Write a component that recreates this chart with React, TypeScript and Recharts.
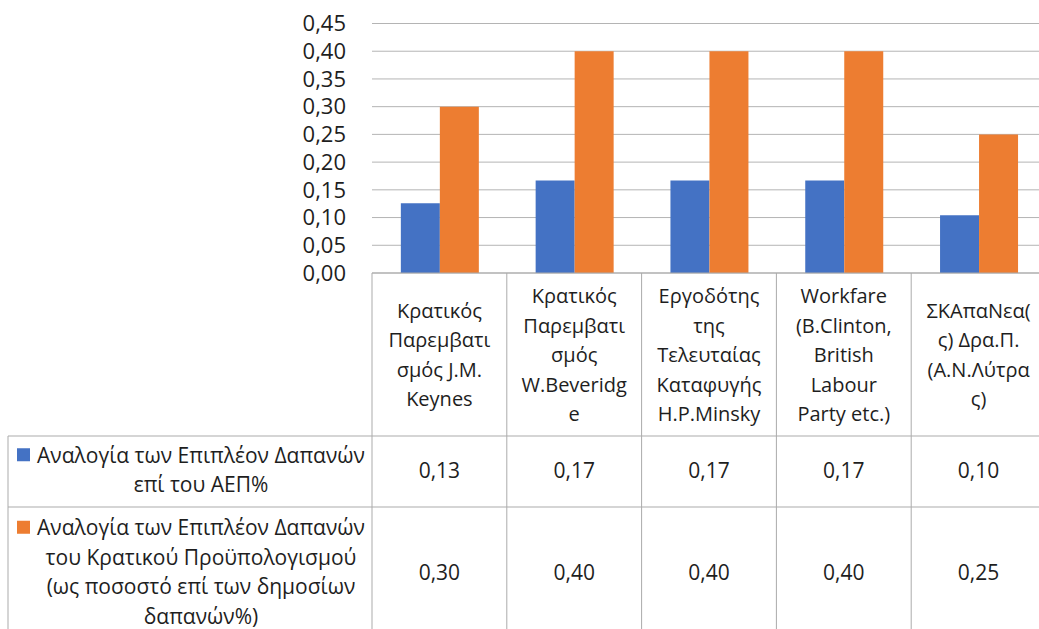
import React from 'react';
import { BarChart, Bar, XAxis, YAxis, CartesianGrid } from 'recharts';

// ---------- data ----------
const categories = [
  'Κρατικός Παρεμβατισμός J.M. Keynes',
  'Κρατικός Παρεμβατισμός W.Beveridge',
  'Εργοδότης της Τελευταίας Καταφυγής H.P.Minsky',
  'Workfare (B.Clinton, British Labour Party etc.)',
  'ΣΚΑπαΝεα(ς) Δρα.Π. (Α.Ν.Λύτρας)',
];
const categoryLines = [
  ['Κρατικός', 'Παρεμβατι', 'σμός J.M.', 'Keynes'],
  ['Κρατικός', 'Παρεμβατι', 'σμός', 'W.Beveridg', 'e'],
  ['Εργοδότης', 'της', 'Τελευταίας', 'Καταφυγής', 'H.P.Minsky'],
  ['Workfare', '(B.Clinton,', 'British', 'Labour', 'Party etc.)'],
  ['ΣΚΑπαΝεα(', 'ς) Δρα.Π.', '(Α.Ν.Λύτρα', 'ς)'],
];
const seriesGDP = [0.126, 0.167, 0.167, 0.167, 0.104];
const seriesBudget = [0.3, 0.4, 0.4, 0.4, 0.25];
const seriesNames = [
  'Αναλογία των Επιπλέον Δαπανών επί του ΑΕΠ%',
  'Αναλογία των Επιπλέον Δαπανών του Κρατικού Προϋπολογισμού (ως ποσοστό επί των δημοσίων δαπανών%)',
];
const seriesNameLines = [
  ['Αναλογία των Επιπλέον Δαπανών', 'επί του ΑΕΠ%'],
  ['Αναλογία των Επιπλέον Δαπανών', 'του Κρατικού Προϋπολογισμού', '(ως ποσοστό επί των δημοσίων', 'δαπανών%)'],
];
const yTicks = [0, 0.05, 0.1, 0.15, 0.2, 0.25, 0.3, 0.35, 0.4, 0.45];

const data = categories.map((name, i) => ({
  name,
  gdp: seriesGDP[i],
  budget: seriesBudget[i],
}));

// ---------- layout / style ----------
const W = 1046;
const H = 629;
const PLOT_LEFT = 372;
const PLOT_TOP = 23.5;
const TABLE_H = 356;
const TABLE_TOP = H - TABLE_H;
const ROW1_TOP = 436;
const ROW2_TOP = 507;
const TABLE_BOTTOM = 640;
const LEGEND_LEFT = 8;
const LEGEND_TEXT_CX = 201;
const LINE_H = 29.5;
const CAT_W = (W - PLOT_LEFT) / categories.length;
const FONT = "'Open Sans', 'Noto Sans', sans-serif";
const BORDER = '#ababab';
const TEXT = '#1e1e1e';
const COLORS = ['#4472C4', '#ED7D31'];

const fmt = (v: number) => v.toFixed(2).replace('.', ',');

const Lines = ({ lines, cx, cy, size }: { lines: string[]; cx: number; cy: number; size: number }) => {
  const start = cy - ((lines.length - 1) * LINE_H) / 2;
  return (
    <>
      {lines.map((l, k) => (
        <text
          key={k}
          x={cx}
          y={start + k * LINE_H}
          textAnchor="middle"
          dominantBaseline="central"
          fontFamily={FONT}
          fontSize={size}
          fill={TEXT}
        >
          {l}
        </text>
      ))}
    </>
  );
};

const TableTick = (props: any) => {
  const { x, payload, index } = props;
  const i: number = payload?.index ?? index ?? 0;
  const half = CAT_W / 2;
  const left = x - half;
  const right = x + half;
  const series = [seriesGDP, seriesBudget];
  const rowTops = [ROW1_TOP, ROW2_TOP];
  const rowBottoms = [ROW2_TOP, TABLE_BOTTOM];
  return (
    <g>
      {/* cell borders */}
      <line x1={left} y1={TABLE_TOP} x2={left} y2={TABLE_BOTTOM} stroke={BORDER} strokeWidth={1} />
      {i === categories.length - 1 && (
        <line x1={right} y1={TABLE_TOP} x2={right} y2={TABLE_BOTTOM} stroke={BORDER} strokeWidth={1} />
      )}
      <line x1={left} y1={ROW1_TOP} x2={right} y2={ROW1_TOP} stroke={BORDER} strokeWidth={1} />
      <line x1={left} y1={ROW2_TOP} x2={right} y2={ROW2_TOP} stroke={BORDER} strokeWidth={1} />
      {/* header */}
      <Lines lines={categoryLines[i]} cx={x} cy={(TABLE_TOP + ROW1_TOP) / 2} size={20} />
      {/* values */}
      {series.map((s, r) => (
        <text
          key={r}
          x={x}
          y={(rowTops[r] + rowBottoms[r]) / 2 - 2}
          textAnchor="middle"
          dominantBaseline="central"
          fontFamily={FONT}
          fontSize={21}
          fill={TEXT}
        >
          {fmt(s[i])}
        </text>
      ))}
      {/* legend column (drawn once) */}
      {i === 0 && (
        <g>
          <line x1={LEGEND_LEFT} y1={ROW1_TOP} x2={left} y2={ROW1_TOP} stroke={BORDER} strokeWidth={1} />
          <line x1={LEGEND_LEFT} y1={ROW2_TOP} x2={left} y2={ROW2_TOP} stroke={BORDER} strokeWidth={1} />
          <line x1={LEGEND_LEFT} y1={ROW1_TOP} x2={LEGEND_LEFT} y2={TABLE_BOTTOM} stroke={BORDER} strokeWidth={1} />
          {seriesNameLines.map((lines, r) => {
            const cy = (rowTops[r] + rowBottoms[r]) / 2 - 2;
            const firstY = cy - ((lines.length - 1) * LINE_H) / 2;
            return (
              <g key={r}>
                <title>{seriesNames[r]}</title>
                <rect x={17} y={firstY - 6.5} width={13} height={13} fill={COLORS[r]} />
                <Lines lines={lines} cx={LEGEND_TEXT_CX} cy={cy} size={21} />
              </g>
            );
          })}
        </g>
      )}
    </g>
  );
};

export default function App() {
  return (
    <div style={{ position: 'absolute', left: 0, top: 0, width: 1039, height: 629, overflow: 'hidden', background: '#fff' }}>
      <BarChart
        width={W}
        height={H}
        data={data}
        margin={{ top: PLOT_TOP, right: 0, bottom: 0, left: 0 }}
        barCategoryGap="21.4%"
        barGap={0}
      >
        <CartesianGrid vertical={false} stroke="#b4b4b4" strokeWidth={1} />
        <XAxis
          dataKey="name"
          height={TABLE_H}
          interval={0}
          tickLine={false}
          tickSize={0}
          tickMargin={0}
          axisLine={{ stroke: BORDER, strokeWidth: 1 }}
          tick={<TableTick />}
        />
        <YAxis
          width={PLOT_LEFT}
          domain={[0, 0.45]}
          ticks={yTicks}
          interval={0}
          axisLine={false}
          tickLine={false}
          tickMargin={20}
          tickFormatter={fmt}
          tick={{ fontFamily: FONT, fontSize: 22, fill: TEXT }}
        />
        <Bar dataKey="gdp" name={seriesNames[0]} fill={COLORS[0]} isAnimationActive={false} />
        <Bar dataKey="budget" name={seriesNames[1]} fill={COLORS[1]} isAnimationActive={false} />
      </BarChart>
    </div>
  );
}
